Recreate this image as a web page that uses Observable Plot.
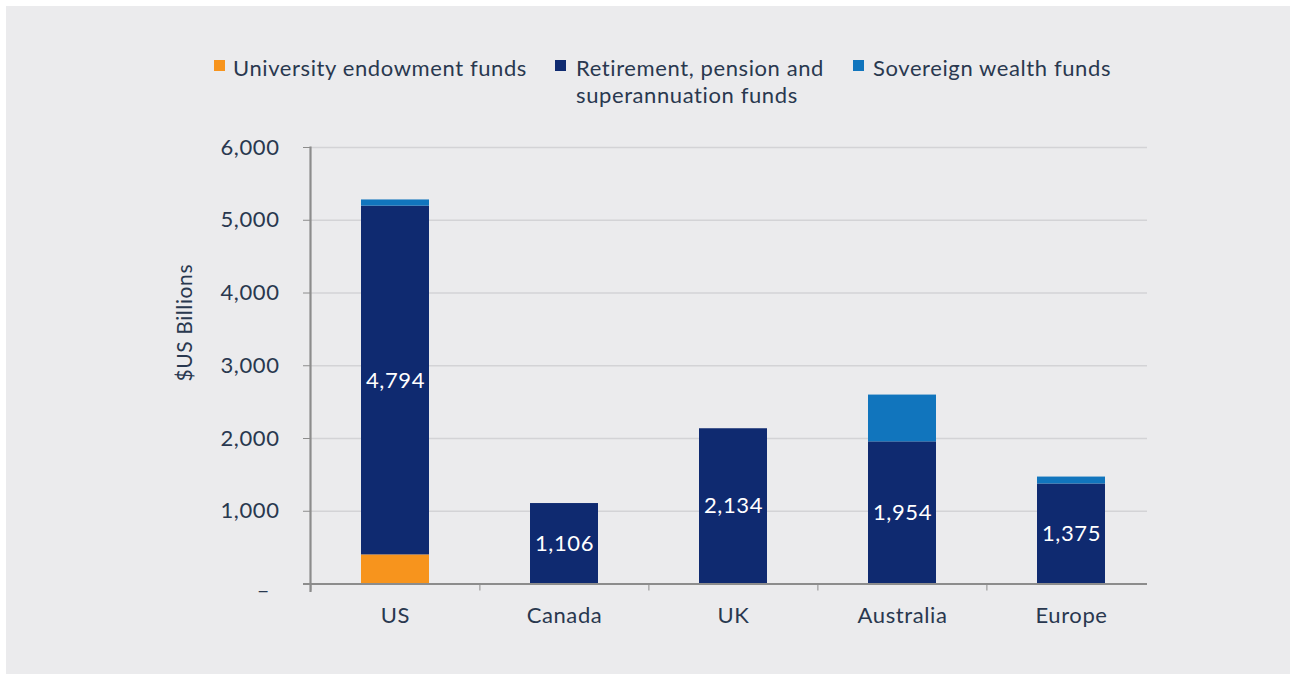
<!DOCTYPE html>
<html>
<head>
<meta charset="utf-8">
<script src="https://cdn.jsdelivr.net/npm/d3@7"></script>
<script src="https://cdn.jsdelivr.net/npm/@observablehq/plot@0.6"></script>
<style>
  html, body { margin: 0; padding: 0; background: #ffffff; }
  body { width: 1290px; height: 674px; overflow: hidden; position: relative; font-family: Lato, "Open Sans", sans-serif; }
  #panel { position: absolute; left: 6px; top: 6px; right: 0; bottom: 0; background: #ebebed; }
  #chart { position: absolute; left: 0; top: 110px; }
  .leg { position: absolute; top: 54px; font-size: 22px; line-height: 27px; letter-spacing: 0.6px; color: #29384f; }
  .sw { position: absolute; width: 11px; height: 11px; top: 60px; }
</style>
</head>
<body>
<div id="panel"></div>
<div id="legend"></div>
<div id="chart"></div>
<script>
const categories = ["US", "Canada", "UK", "Australia", "Europe"];
const seriesNames = ["University endowment funds", "Retirement, pension and superannuation funds", "Sovereign wealth funds"];
const endowment = [400, 0, 0, 0, 0];
const retirement = [4794, 1106, 2134, 1954, 1375];
const sovereign = [85, 0, 0, 643, 95];
const yTicks = [1000, 2000, 3000, 4000, 5000, 6000];
const seriesColors = ["#f7941d", "#0f2a70", "#1175bd"];

const seriesValues = [endowment, retirement, sovereign];
const rows = [];
seriesNames.forEach((s, si) => categories.forEach((c, ci) => rows.push({category: c, series: s, value: seriesValues[si][ci]})));
const labelRows = categories.map((c, i) => ({category: c, mid: endowment[i] + retirement[i] / 2, text: d3.format(",")(retirement[i])}));

// legend (HTML, above the SVG)
const legendPos = [{sw: 214, tx: 233, w: 320}, {sw: 555, tx: 576, w: 270}, {sw: 853, tx: 873, w: 320}];
const legend = document.getElementById("legend");
seriesNames.forEach((s, i) => {
  const sw = document.createElement("div");
  sw.className = "sw"; sw.style.left = legendPos[i].sw + "px"; sw.style.background = seriesColors[i];
  legend.appendChild(sw);
  const t = document.createElement("div");
  t.className = "leg"; t.style.left = legendPos[i].tx + "px"; t.style.width = legendPos[i].w + "px";
  t.textContent = s;
  legend.appendChild(t);
});

const textColor = "#29384f";
const axisColor = "#8c8c8c";
const step = (1290 - 310 - 134) / categories.length;

const chart = Plot.plot({
  width: 1290,
  height: 564,
  marginLeft: 310,
  marginRight: 134,
  marginTop: 37,
  marginBottom: 90.5,
  style: {background: "transparent", fontFamily: "Lato, 'Open Sans', sans-serif", fontSize: "22px", letterSpacing: "0.6px", color: textColor},
  x: {domain: categories, paddingInner: 0.6, paddingOuter: 0.3},
  y: {domain: [0, 6000]},
  color: {domain: seriesNames, range: seriesColors},
  marks: [
    Plot.ruleY(yTicks, {stroke: "#d3d3d6", strokeWidth: 1.6, insetRight: 9}),
    Plot.barY(rows, Plot.stackY({order: seriesNames, x: "category", y: "value", z: "series", fill: "series"})),
    Plot.text(labelRows, {x: "category", y: "mid", text: "text", fill: "white", fontSize: 22}),
    Plot.ruleY([0], {stroke: axisColor, strokeWidth: 2.2, insetLeft: -7, insetRight: 9}),
    Plot.frame({anchor: "left", stroke: axisColor, strokeWidth: 2.2, insetBottom: -7}),
    Plot.axisY(yTicks, {tickSize: 7, tickPadding: 24, stroke: axisColor, fill: textColor, tickFormat: d3.format(","), label: null, fontSize: 22}),
    Plot.text([0], {frameAnchor: "left", y: d => d, text: () => "–", textAnchor: "middle", dx: -47, dy: 7, fill: textColor, fontSize: 22}),
    Plot.axisX({tickSize: 7, tickFormat: () => "", dx: -step / 2, stroke: axisColor, label: null}),
    Plot.axisX({tickSize: 0, tickPadding: 23, fill: textColor, label: null, fontSize: 22}),
    Plot.text(["$US Billions"], {frameAnchor: "left", textAnchor: "middle", rotate: -90, dx: -125, dy: -43, fill: textColor, fontSize: 21})
  ]
});
document.getElementById("chart").appendChild(chart);
</script>
</body>
</html>
